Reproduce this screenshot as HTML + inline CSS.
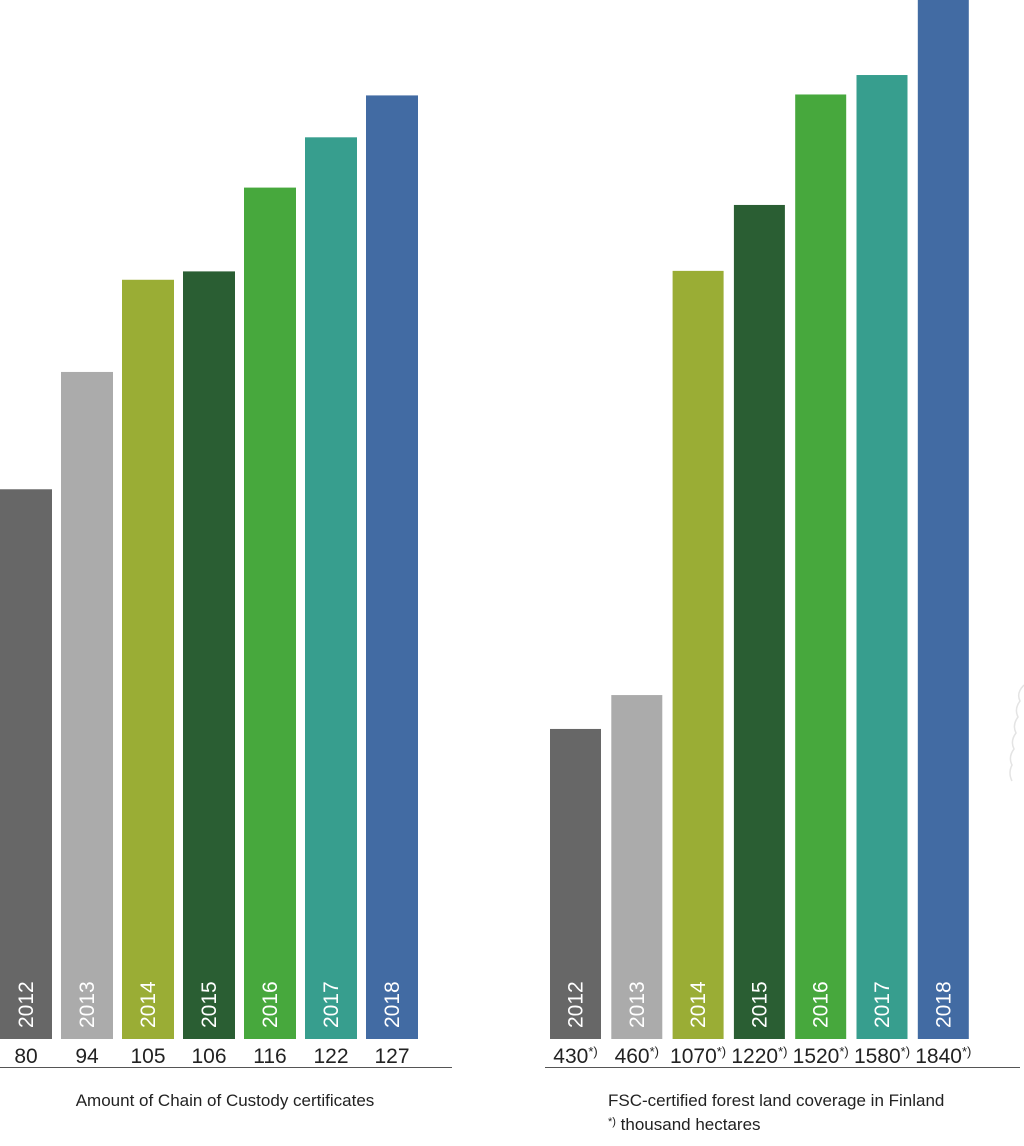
<!DOCTYPE html>
<html><head><meta charset="utf-8"><style>
html,body{margin:0;padding:0;background:#fff;}
svg{display:block;font-family:"Liberation Sans",sans-serif;}
</style></head><body>
<svg id="c" width="1024" height="1146" viewBox="0 0 1024 1146" xmlns="http://www.w3.org/2000/svg">
<g id="left"></g>
<g id="right"></g>
<line x1="0" y1="1067.5" x2="452" y2="1067.5" stroke="#555" stroke-width="1"/>
<line x1="545" y1="1067.5" x2="1020" y2="1067.5" stroke="#555" stroke-width="1"/>
<text x="225" y="1106" font-size="17" text-anchor="middle" fill="#222">Amount of Chain of Custody certificates</text>
<text x="608" y="1106" font-size="17" fill="#222">FSC-certified forest land coverage in Finland</text>
<text x="608" y="1130" font-size="17" fill="#222"><tspan font-size="11" dy="-5">*)</tspan><tspan dy="5"> thousand hectares</tspan></text>
<path d="M1024 685 q-8 8 -4 16 q-6 8 -2 16 q-6 8 -2 16 q-6 8 -2 16 q-6 8 -2 16 q-4 8 0 16" fill="none" stroke="#e4e4e4" stroke-width="1.5"/>
</svg>
<script>
const years = ["2012","2013","2014","2015","2016","2017","2018"];
const cocValues = [80,94,105,106,116,122,127];
const forestValues = [430,460,1070,1220,1520,1580,1840];
const colors = ["#676767","#ababab","#9aad35","#2a5e33","#47a83d","#379e8e","#426ba3"];

const NS="http://www.w3.org/2000/svg";
const bottom=1039;
function yLeft(v){return bottom-(v-14.4)*8.38;}
function yRight(v){return bottom-(Math.log10(v)-Math.log10(232))*1157;}
function draw(gid,x0,step,w,vals,yf,labels){
  const g=document.getElementById(gid);
  vals.forEach((v,i)=>{
    const x=x0+i*step, top=Math.max(0,yf(v));
    const r=document.createElementNS(NS,"rect");
    
    
    r.setAttribute("x",x);r.setAttribute("y",top);r.setAttribute("width",w);r.setAttribute("height",bottom-top);r.setAttribute("fill",colors[i]);
    g.appendChild(r);
    const t=document.createElementNS(NS,"text");
    
    
    const cx=x+w/2+7, cy=1028;
    t.setAttribute("x",cx);t.setAttribute("y",cy);t.setAttribute("font-size","21");t.setAttribute("fill","#fff");
    t.setAttribute("transform","rotate(-90 "+cx+" "+cy+")");
    t.textContent=years[i];g.appendChild(t);
    const vt=document.createElementNS(NS,"text");
    
    
    vt.setAttribute("x",x+w/2);vt.setAttribute("y",1063);vt.setAttribute("font-size","21");vt.setAttribute("text-anchor","middle");vt.setAttribute("fill","#222");
    if(labels){vt.innerHTML=v+'<tspan font-size="13" dy="-7">*)</tspan>';}else vt.textContent=v;
    g.appendChild(vt);
  });
}
draw("left",0,61,52,cocValues,yLeft,false);
draw("right",550,61.3,51,forestValues,yRight,true);
</script>
</body></html>
